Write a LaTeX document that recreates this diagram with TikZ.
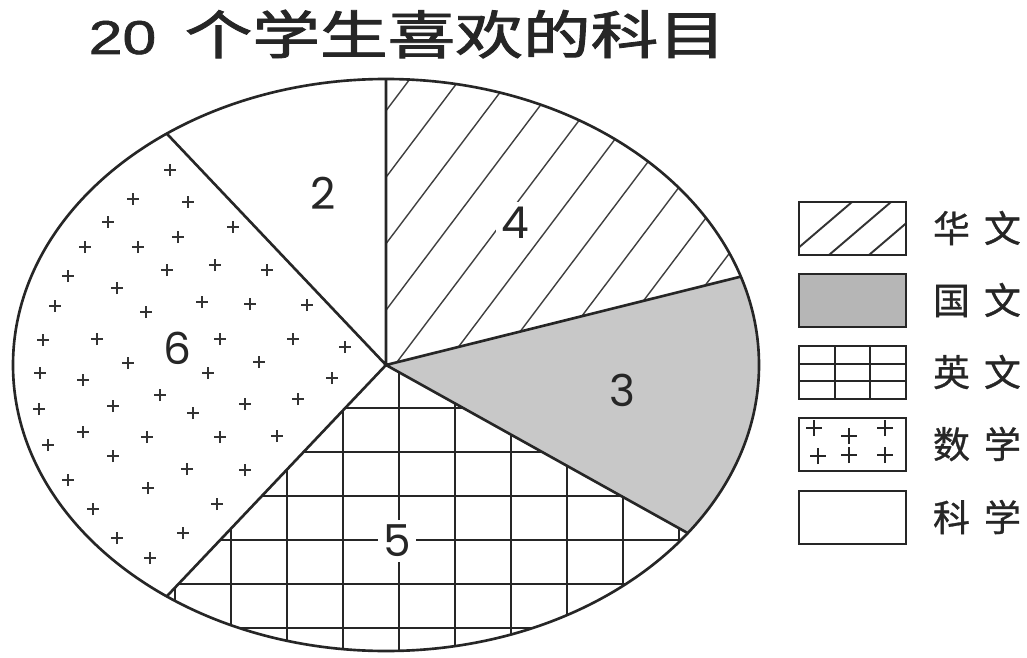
\documentclass[tikz,border=0pt]{standalone}
\usepackage{graphicx}
\usepackage{fontspec}
\newfontfamily\cjk{Noto Sans CJK SC}
\newfontfamily\cjkt[FakeBold=1.6]{Noto Sans CJK SC}
\newfontfamily\cjkk[FakeBold=0.8]{Noto Sans CJK SC}
\newfontfamily\titlenum[FakeBold=1.2]{Liberation Sans}
\newfontfamily\numfont{Poppins}
\definecolor{piegray}{RGB}{200,200,200}
\definecolor{keygray}{RGB}{182,182,182}
\begin{document}
\begin{tikzpicture}[x=0.01cm,y=0.01cm,
  outline/.style={line width=0.75pt,black!85},
  hatchline/.style={line width=0.4pt,black!75},
  gridline/.style={line width=0.55pt,black!85},
  keybox/.style={line width=0.75pt,black!85},
  slicelabel/.style={inner sep=1.5pt,font=\numfont\fontsize{12.5}{14}\selectfont,text=black!85},
  keylabel/.style={font=\cjkk\fontsize{10.5}{12}\selectfont,text=black!85},
  pl/.pic={\draw[line width=0.45pt,black!80] (-6,0)--(6,0) (0,-6)--(0,6);},
  kpl/.pic={\draw[line width=0.6pt,black!85] (-8,0)--(8,0) (0,-8)--(0,8);}
]
\useasboundingbox[fill=white] (0,0) rectangle (1027,657);

% title
\node[anchor=base west,inner sep=0pt,text=black!85] (t20) at (88,603)
  {\titlenum\fontsize{13.5}{15}\selectfont\scalebox{1.28}[1]{20}};
\node[anchor=base west,inner sep=0pt,text=black!85] (tcjk) at (184,603)
  {\cjkt\fontsize{14.8}{16}\selectfont\scalebox{1.3}[1]{个学生喜欢的科目}};

% pie geometry
\coordinate (C) at (386,292);
\path (C) ++(90:373 and 286) coordinate (pa);
\path (C) ++(18:373 and 286) coordinate (pb);
\path (C) ++(-36:373 and 286) coordinate (pc);
\path (C) ++(-126:373 and 286) coordinate (pd);
\path (C) ++(126:373 and 286) coordinate (pe);

% 国文 (gray)
\path[fill=piegray] (C) -- (pb) arc[start angle=18,end angle=-36,x radius=373,y radius=286] -- cycle;

% 华文 (hatch)
\begin{scope}
  \clip (C) -- (pa) arc[start angle=90,end angle=18,x radius=373,y radius=286] -- cycle;
  \begin{scope}[shift={(C)},rotate=53]
    \foreach \k in {-12,...,12} \draw[hatchline] (-600,\k*40+33) -- (600,\k*40+33);
  \end{scope}
\end{scope}

% 英文 (grid)
\begin{scope}
  \clip (C) -- (pc) arc[start angle=-36,end angle=-126,x radius=373,y radius=286] -- cycle;
  \foreach \k in {0,...,6} \draw[gridline] (0,249-44*\k) -- (800,249-44*\k);
  \foreach \k in {-3,...,8} \draw[gridline] (231+56*\k,0) -- (231+56*\k,300);
\end{scope}

% 数学 (plus signs)
\foreach \x/\y in {170/170,133/199,188/202,108/222,178/237,233/227,85/247,138/247,
  68/276,167/270,215/265,267/270,117/288,55/306,146/312,202/302,250/304,307/305,
  43/340,97/339,220/339,293/339,345/347,128/363,259/362,208/373,40/373,83/380,
  332/378,160/395,39/409,113/406,193/413,245/404,298/399,83/432,147/437,220/437,
  277/436,48/445,113/456,187/469,245/470,68/480,148/488,217/504,93/509,183/533,
  117/538,150/558}
  \pic at (\x,657-\y) {pl};

% outlines
\draw[outline] (C) ellipse[x radius=373,y radius=286];
\draw[outline] (pa) -- (C) -- (pb) (C) -- (pc) (C) -- (pd) (C) -- (pe);

% slice labels
\node[slicelabel,fill=white] (n4) at (515,434) {4};
\node[slicelabel] (n3) at (622,267) {3};
\node[slicelabel,fill=white] (n5) at (397,116) {5};
\node[slicelabel,fill=white] (n6) at (177,309) {6};
\node[slicelabel] (n2) at (323,464) {2};

% legend boxes
\begin{scope}
  \clip (799,402) rectangle (906,455);
  \foreach \x in {790,829,869} \draw[line width=0.55pt,black!80] (\x,402) -- (\x+62,455);
\end{scope}
\draw[keybox] (799,402) rectangle (906,455);

\draw[keybox,fill=keygray] (799,330) rectangle (906,383);

\draw[keybox] (799,258) rectangle (906,311);
\draw[gridline] (834.7,258) -- (834.7,311) (870.3,258) -- (870.3,311)
  (799,275.7) -- (906,275.7) (799,293.3) -- (906,293.3);

\draw[keybox] (799,186) rectangle (906,239);
\foreach \x/\y in {814/229,849/221,885/229,818/201,849/202,885/202}
  \pic at (\x,\y) {kpl};

\draw[keybox] (799,113) rectangle (906,166);

% legend labels
\node[keylabel] (k1) at (977,429) {华\hspace{4pt}文};
\node[keylabel] (k2) at (977,357) {国\hspace{4pt}文};
\node[keylabel] (k3) at (977,285) {英\hspace{4pt}文};
\node[keylabel] (k4) at (977,213) {数\hspace{4pt}学};
\node[keylabel] (k5) at (977,140) {科\hspace{4pt}学};
\end{tikzpicture}
\end{document}
